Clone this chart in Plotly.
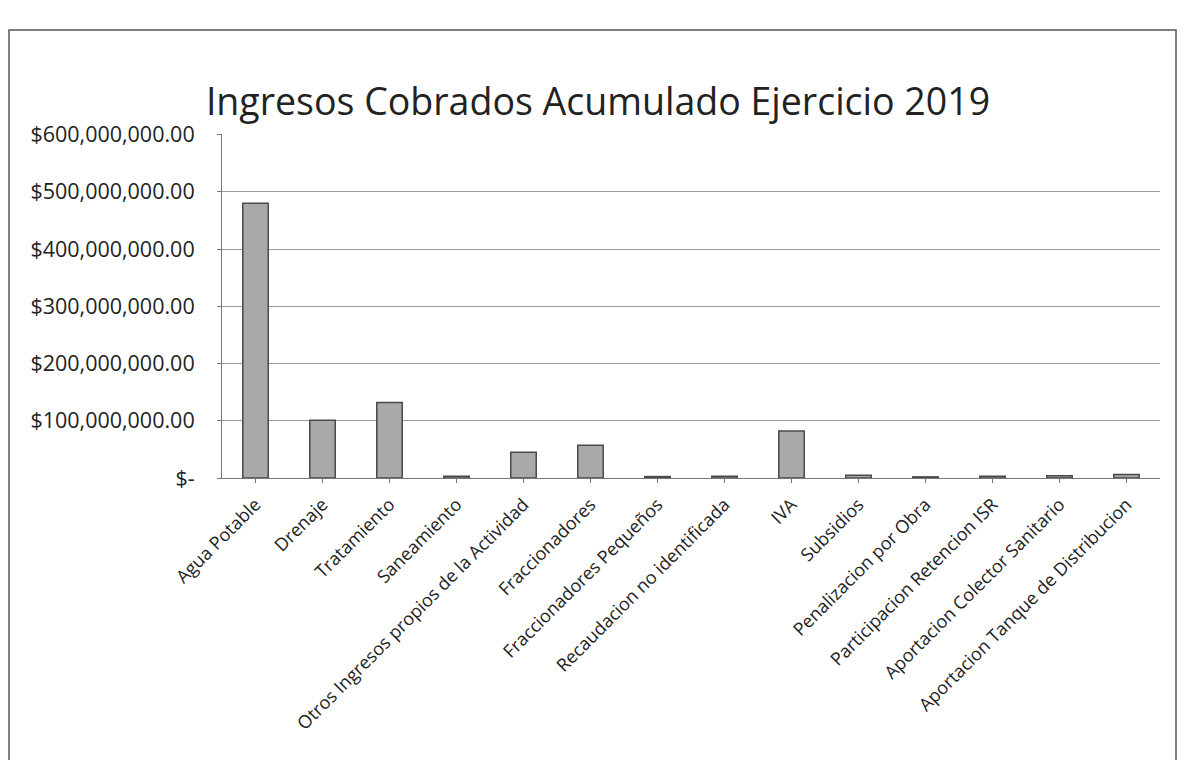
import plotly.graph_objects as go

categories = ["Agua Potable", "Drenaje", "Tratamiento", "Saneamiento",
              "Otros Ingresos propios de la Actividad", "Fraccionadores",
              "Fraccionadores Pequeños", "Recaudacion no identificada", "IVA",
              "Subsidios", "Penalizacion por Obra", "Participacion Retencion ISR",
              "Aportacion Colector Sanitario", "Aportacion Tanque de Distribucion"]
values = [480000000, 101000000, 132000000, 3000000, 45000000, 57000000,
          2500000, 3000000, 82000000, 5000000, 2000000, 3000000, 4000000, 6000000]
tick_values = [0, 100000000, 200000000, 300000000, 400000000, 500000000, 600000000]
tick_labels = ["$-", "$100,000,000.00", "$200,000,000.00", "$300,000,000.00",
               "$400,000,000.00", "$500,000,000.00", "$600,000,000.00"]

W, H = 1185, 760
ml, mr, mt, mb = 214, 33, 126, 290
pw, ph = W - ml - mr, H - mt - mb

def px(x):
    return (x - ml) / pw

def py(y):
    return (H - mb - y) / ph

fig = go.Figure(go.Bar(
    x=categories, y=values,
    marker=dict(color="#a9a9a9", line=dict(color="#4a4a4a", width=1.5)),
))

fig.update_layout(
    width=W, height=H,
    margin=dict(l=ml, r=mr, t=mt, b=mb),
    paper_bgcolor="white", plot_bgcolor="white",
    font=dict(family="Open Sans, Liberation Sans, sans-serif", color="#222"),
    title=dict(text="Ingresos Cobrados Acumulado Ejercicio 2019",
               x=(597 - 7 - ml) / pw, xref="paper", xanchor="center",
               y=1 - 94 / H, yanchor="middle",
               font=dict(size=37.5, color="#222")),
    bargap=0.62,
    showlegend=False,
    shapes=[dict(type="rect", xref="paper", yref="paper",
                 x0=px(1), x1=px(1168), y0=py(760), y1=py(22),
                 line=dict(color="#555", width=1.5), layer="below")],
)
fig.update_yaxes(range=[0, 601000000], tickvals=tick_values, ticktext=tick_labels,
                 showgrid=True, gridcolor="#9a9a9a", gridwidth=1,
                 showline=True, linecolor="#777", ticks="outside", ticklen=4,
                 tickcolor="#777", tickfont=dict(size=21.5), zeroline=False,
                 ticklabelstandoff=18)
fig.update_xaxes(tickangle=-45, tickfont=dict(size=18), showline=True,
                 linecolor="#777", ticks="outside", ticklen=4, tickcolor="#777",
                 ticklabelstandoff=4)

fig.write_html("out.html")
